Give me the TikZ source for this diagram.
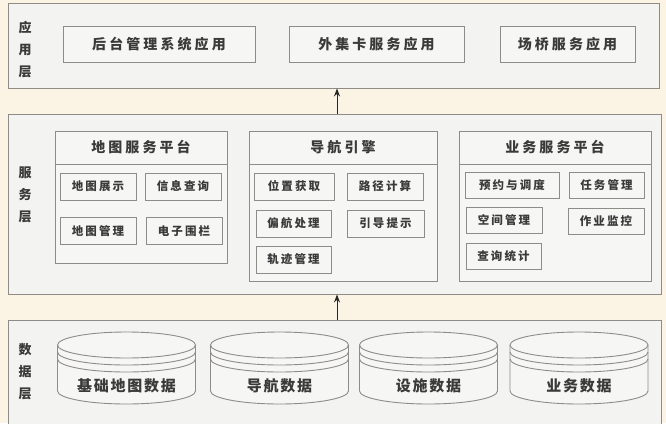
\documentclass[tikz,border=0pt]{standalone}
\usepackage{fontspec}
\newfontfamily\cjkA{Noto Sans CJK SC}[LetterSpace=22]
\newfontfamily\cjkB{Noto Sans CJK SC}[LetterSpace=18]
\newfontfamily\cjkC{Noto Sans CJK SC}[LetterSpace=12]
\usetikzlibrary{arrows.meta}
\definecolor{bg}{HTML}{FBF3E3}
\definecolor{layerfill}{HTML}{F3F3F1}
\definecolor{boxfill}{HTML}{F6F6F4}
\definecolor{edge}{HTML}{8F8C88}
\definecolor{txt}{HTML}{3A3A3A}
\tikzset{
  layer/.style={draw=edge, fill=layerfill, line width=0.9pt, inner sep=0pt},
  box/.style={draw=edge, fill=boxfill, line width=0.9pt, inner sep=0pt, text=txt},
  appbox/.style={box, minimum height=36pt, font=\cjkA\bfseries\fontsize{14}{16}\selectfont},
  hdr/.style={box, minimum height=33pt, font=\cjkA\bfseries\fontsize{14}{16}\selectfont},
  item/.style={box, minimum height=27pt, font=\cjkB\bfseries\fontsize{11.5}{13}\selectfont},
  lbl/.style={align=center, text=txt, inner sep=0pt, font=\cjkC\bfseries\fontsize{13}{22}\selectfont},
  cyl/.style={draw=edge, line width=0.9pt},
  cyltext/.style={text=txt, inner sep=0pt, font=\cjkC\bfseries\fontsize{15}{17}\selectfont},
  uparrow/.style={-{Stealth[length=8pt,width=6pt]}, line width=1pt, draw=black!85}
}
\begin{document}
\begin{tikzpicture}[x=1pt,y=1pt]
\useasboundingbox (0,0) rectangle (666,-423);
\fill[bg] (0,0) rectangle (666,-423);

% layers
\node[layer, minimum width=651pt, minimum height=85pt] (app) at (333.5,-45.5) {};
\node[layer, minimum width=653pt, minimum height=180pt] (svc) at (334.5,-204) {};
\node[layer, minimum width=653pt, minimum height=110pt] (dat) at (334.5,-375) {};

% layer labels
\node[lbl] (l1) at (25,-49.5) {应\\用\\层};
\node[lbl] (l2) at (25,-195) {服\\务\\层};
\node[lbl] (l3) at (25,-372) {数\\据\\层};

% application layer
\node[appbox, minimum width=192pt] (b1) at (159,-44) {后台管理系统应用};
\node[appbox, minimum width=175pt] (b2) at (376.5,-44) {外集卡服务应用};
\node[appbox, minimum width=135pt] (b3) at (567.5,-44) {场桥服务应用};

% service platforms
\node[box, minimum width=172pt, minimum height=132pt] (p1) at (141,-197) {};
\node[hdr, minimum width=172pt, anchor=north] (p1h) at (p1.north) {地图服务平台};
\node[box, minimum width=188pt, minimum height=150pt] (p2) at (343,-206) {};
\node[hdr, minimum width=188pt, anchor=north] (p2h) at (p2.north) {导航引擎};
\node[box, minimum width=192pt, minimum height=150pt] (p3) at (555,-206) {};
\node[hdr, minimum width=192pt, anchor=north] (p3h) at (p3.north) {业务服务平台};

% map platform items
\node[item, minimum width=76pt] (m1) at (98,-186.5) {地图展示};
\node[item, minimum width=76pt] (m2) at (183,-186.5) {信息查询};
\node[item, minimum width=76pt] (m3) at (98,-231) {地图管理};
\node[item, minimum width=76pt] (m4) at (184,-231) {电子围栏};

% navigation items
\node[item, minimum width=80pt] (n1) at (294,-186.5) {位置获取};
\node[item, minimum width=76pt] (n2) at (385,-186.5) {路径计算};
\node[item, minimum width=75pt] (n3) at (293.5,-223.5) {偏航处理};
\node[item, minimum width=77pt] (n4) at (385.5,-223.5) {引导提示};
\node[item, minimum width=75pt] (n5) at (293.5,-259.5) {轨迹管理};

% business items
\node[item, minimum width=94pt, minimum height=26pt] (s1) at (512,-185) {预约与调度};
\node[item, minimum width=75pt, minimum height=26pt] (s2) at (606.5,-185) {任务管理};
\node[item, minimum width=76pt, minimum height=26pt] (s3) at (504,-220.5) {空间管理};
\node[item, minimum width=76pt, minimum height=26pt] (s4) at (606,-221) {作业监控};
\node[item, minimum width=75pt, minimum height=26pt] (s5) at (503.5,-256) {查询统计};

% data cylinders
\foreach \cx/\t/\n in {126.5/基础地图数据/c1, 279.5/导航数据/c2, 428.5/设施数据/c3, 579/业务数据/c4} {
  \fill[boxfill] (\cx-69,-345) rectangle (\cx+69,-391);
  \fill[boxfill] (\cx,-391) ellipse [x radius=69, y radius=13];
  \draw[cyl] (\cx-69,-345) -- (\cx-69,-391) arc[start angle=180, end angle=360, x radius=69, y radius=13] -- (\cx+69,-345);
  \draw[cyl, fill=boxfill] (\cx,-345) ellipse [x radius=69, y radius=13];
  \draw[cyl] (\cx-69,-352) arc[start angle=180, end angle=360, x radius=69, y radius=13];
  \draw[cyl] (\cx-69,-359) arc[start angle=180, end angle=360, x radius=69, y radius=13];
  \node[cyltext] (\n) at (\cx,-386) {\t};
}

% arrows
\coordinate (ax) at (337,0);
\draw[uparrow] (svc.north -| ax) -- (app.south -| ax);
\draw[uparrow] (dat.north -| ax) -- (svc.south -| ax);
\end{tikzpicture}
\end{document}
